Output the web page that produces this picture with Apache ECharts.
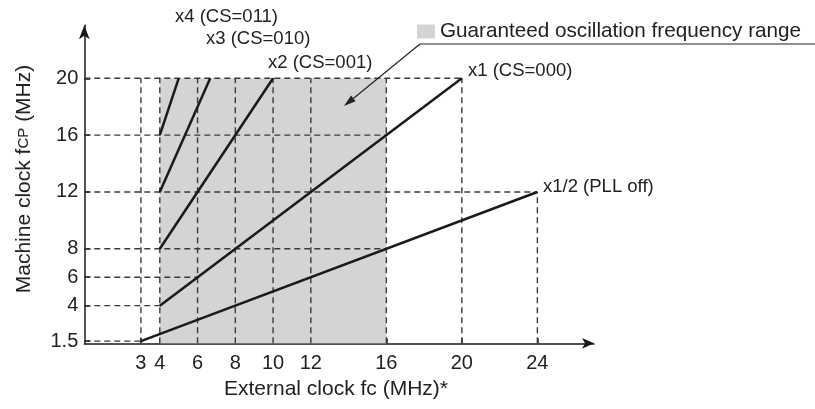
<!DOCTYPE html>
<html>
<head>
<meta charset="utf-8">
<script src="https://cdn.jsdelivr.net/npm/echarts@6/dist/echarts.min.js"></script>
<style>html,body{margin:0;padding:0;background:#fff}#c{width:815px;height:409px}</style>
</head>
<body>
<div id="c"></div>
<script>
// ---- data ----
var xTicks = [3, 4, 6, 8, 10, 12, 16, 20, 24];
var yTicks = [1.5, 4, 6, 8, 12, 16, 20];
var lineNames = ['x1/2 (PLL off)', 'x1 (CS=000)', 'x2 (CS=001)', 'x3 (CS=010)', 'x4 (CS=011)'];
var lineX0 = [3, 4, 4, 4, 4];
var lineY0 = [1.5, 4, 8, 12, 16];
var lineX1 = [24, 20, 10, 6.67, 5];
var lineY1 = [12, 20, 20, 20, 20];
var hGuideY = [20, 16, 12, 8, 6, 4, 1.5];
var hGuideXEnd = [20, 16, 24, 16, 6, 4, 3];
var vGuideX = [3, 4, 6, 8, 10, 12, 16, 20, 24];
var vGuideYEnd = [20, 20, 20, 20, 20, 20, 20, 20, 12];
var rangeX = [4, 16];
var rangeYTop = 20;
var rangeName = 'Guaranteed oscillation frequency range';

var X_MIN = 0, X_MAX = 27, Y_MIN = 1.35, Y_MAX = 23.73;
var FONT = 'Liberation Sans, Arial, Helvetica, sans-serif';
var TXT = '#222';

var series = [];
series.push({
  name: rangeName, type: 'custom', z: 1,
  itemStyle: {color: '#d3d4d6'},
  renderItem: function (params, api) {
    var p0 = api.coord([api.value(0), api.value(3)]);
    var p1 = api.coord([api.value(1), api.value(2)]);
    return {type: 'rect', shape: {x: p0[0], y: p0[1], width: p1[0] - p0[0], height: p1[1] - p0[1]},
      style: {fill: '#d3d4d6'}};
  },
  data: [[rangeX[0], rangeX[1], Y_MIN, rangeYTop]]
});
hGuideY.forEach(function (y, i) {
  series.push({type: 'line', z: 2, silent: true, symbol: 'none',
    lineStyle: {color: '#3a3a3a', width: 1.4, type: [6, 4]},
    data: [[X_MIN, y], [hGuideXEnd[i], y]]});
});
vGuideX.forEach(function (x, i) {
  series.push({type: 'line', z: 2, silent: true, symbol: 'none',
    lineStyle: {color: '#3a3a3a', width: 1.4, type: [6, 4]},
    data: [[x, Y_MIN], [x, vGuideYEnd[i]]]});
});
lineNames.forEach(function (n, i) {
  series.push({name: n, type: 'line', z: 5, symbol: 'none',
    lineStyle: {color: '#1a1a1a', width: 2.5},
    data: [[lineX0[i], lineY0[i]], [lineX1[i], lineY1[i]]]});
});

// annotation arrow geometry
var tail = [420, 44], tip = [344, 106];
var dx = tip[0] - tail[0], dy = tip[1] - tail[1], L = Math.sqrt(dx * dx + dy * dy);
var ux = dx / L, uy = dy / L, hl = 12, hw = 3.6;
var bx = tip[0] - ux * hl, by = tip[1] - uy * hl;

var labelPos = [[543, 187], [468, 71], [268, 63], [206, 39], [175, 17]];
var graphics = lineNames.map(function (n, i) {
  return {type: 'text', z: 100, x: labelPos[i][0], y: labelPos[i][1],
    style: {text: n, font: '18.5px ' + FONT, fill: TXT, verticalAlign: 'middle', align: 'left'}};
});
graphics.push({type: 'line', z: 100, shape: {x1: tail[0], y1: tail[1], x2: 815, y2: tail[1]}, style: {stroke: '#222', lineWidth: 1.2}});
graphics.push({type: 'line', z: 100, shape: {x1: tail[0], y1: tail[1], x2: bx, y2: by}, style: {stroke: '#222', lineWidth: 1.2}});
graphics.push({type: 'polygon', z: 100, shape: {points: [tip, [bx - uy * hw, by + ux * hw], [bx + uy * hw, by - ux * hw]]}, style: {fill: '#222'}});
graphics.push({type: 'text', z: 100, x: 336, y: 389,
  style: {text: 'External clock fc (MHz)*', font: '21px ' + FONT, fill: TXT, align: 'center', verticalAlign: 'middle'}});
graphics.push({type: 'text', z: 100, x: 24, y: 179, rotation: Math.PI / 2,
  style: {text: '{a|Machine clock f}{b|CP}{a| (MHz)}', align: 'center', verticalAlign: 'middle',
    rich: {a: {fontSize: 21, fontFamily: FONT, fill: TXT, color: TXT},
           b: {fontSize: 15, fontFamily: FONT, fill: TXT, color: TXT}}}});

var chart = echarts.init(document.getElementById('c'), null, {renderer: 'canvas'});
chart.setOption({
  animation: false,
  backgroundColor: '#fff',
  grid: {left: 84.3, right: 221, top: 25.3, bottom: 65.7, containLabel: false},
  legend: {
    left: 417, top: 21, padding: 0, itemWidth: 18, itemHeight: 14, itemGap: 10,
    textStyle: {fontSize: 20.7, fontFamily: FONT, color: TXT},
    data: [{name: rangeName, icon: 'rect', itemStyle: {color: '#d3d4d6'}}],
    selectedMode: false
  },
  xAxis: {
    type: 'value', min: X_MIN, max: X_MAX,
    axisLine: {show: true, onZero: false, symbol: ['none', 'arrow'], symbolSize: [8, 12], lineStyle: {color: '#1a1a1a', width: 1.5}},
    axisTick: {show: true, inside: true, length: 5, customValues: xTicks, lineStyle: {color: '#1a1a1a', width: 1.5}},
    axisLabel: {customValues: xTicks, fontSize: 20, fontFamily: FONT, color: TXT, margin: 10},
    splitLine: {show: false}
  },
  yAxis: {
    type: 'value', min: Y_MIN, max: Y_MAX,
    axisLine: {show: true, onZero: false, symbol: ['none', 'arrow'], symbolSize: [8, 14], lineStyle: {color: '#1a1a1a', width: 1.5}},
    axisTick: {show: true, inside: true, length: 6, customValues: yTicks, lineStyle: {color: '#1a1a1a', width: 1.5}},
    axisLabel: {customValues: yTicks, fontSize: 20, fontFamily: FONT, color: TXT, margin: 6},
    splitLine: {show: false}
  },
  series: series,
  graphic: graphics
});
</script>
</body>
</html>
